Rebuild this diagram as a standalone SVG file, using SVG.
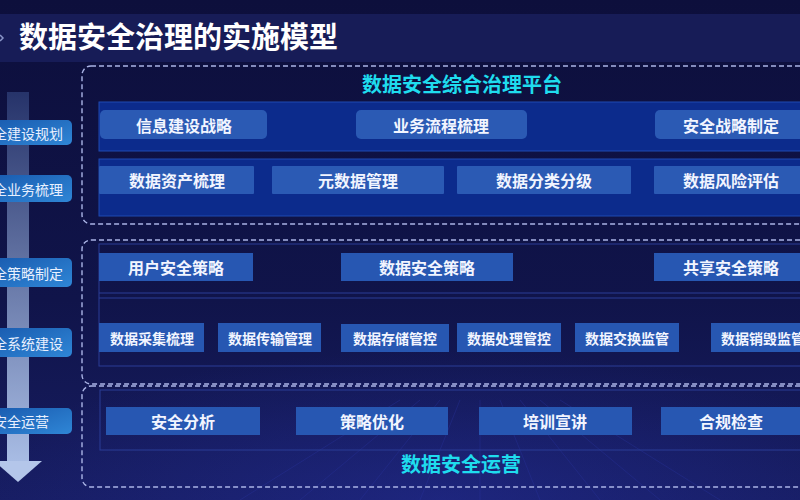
<svg xmlns="http://www.w3.org/2000/svg" width="800" height="500" viewBox="0 0 800 500">
<defs>
<linearGradient id="bgG" x1="0" y1="0" x2="0" y2="1">
<stop offset="0" stop-color="#0d0f3c"/>
<stop offset="0.6" stop-color="#10144a"/>
<stop offset="1" stop-color="#171d62"/>
</linearGradient>
<radialGradient id="glow" cx="0.55" cy="1" r="0.6">
<stop offset="0" stop-color="#2630a0" stop-opacity="0.45"/>
<stop offset="1" stop-color="#2630a0" stop-opacity="0"/>
</radialGradient>
<linearGradient id="shaftG" x1="0" y1="0" x2="0" y2="1">
<stop offset="0" stop-color="#26336a"/>
<stop offset="1" stop-color="#a8bce4"/>
</linearGradient>
<linearGradient id="leftBtn" x1="0" y1="0" x2="1" y2="1">
<stop offset="0" stop-color="#1a5cb0"/>
<stop offset="1" stop-color="#2f86d6"/>
</linearGradient>
<style>
.title{font-family:"Noto Sans CJK SC","Noto Sans",sans-serif;font-weight:bold;fill:#ffffff}
.cyan{font-family:"Noto Sans CJK SC","Noto Sans",sans-serif;font-weight:bold;fill:#1fdcee;font-size:20px}
.lbl{font-family:"Noto Sans CJK SC","Noto Sans",sans-serif;font-weight:bold;fill:#f2f5ff;font-size:16px;text-anchor:middle;dominant-baseline:central}
.lbl14{font-family:"Noto Sans CJK SC","Noto Sans",sans-serif;font-weight:bold;fill:#f2f5ff;font-size:14px;text-anchor:middle;dominant-baseline:central}
.side{font-family:"Noto Sans CJK SC","Noto Sans",sans-serif;fill:#e8f0ff;font-size:14px;text-anchor:end;dominant-baseline:central}
.dash{fill:none;stroke:#aab4e6;stroke-width:1.4;stroke-dasharray:5 3}
.panel{fill:#0c2b8c;stroke:#1f4ab2;stroke-width:1}
.btnR{fill:#2b5ab4}
.btnS{fill:#2757b2}
.sideBtn{fill:url(#leftBtn)}
.thin{fill:none;stroke:#2a3c96;stroke-width:1}
</style>
</defs>

<rect x="0" y="0" width="800" height="500" fill="url(#bgG)"/>
<rect x="0" y="250" width="800" height="250" fill="url(#glow)"/>
<g stroke="#2a35a0" stroke-width="1" opacity="0.35">
<line x1="300" y1="500" x2="420" y2="400"/>
<line x1="360" y1="500" x2="440" y2="400"/>
<line x1="420" y1="500" x2="460" y2="400"/>
<line x1="480" y1="500" x2="480" y2="400"/>
<line x1="540" y1="500" x2="500" y2="400"/>
<line x1="600" y1="500" x2="520" y2="400"/>
<line x1="660" y1="500" x2="540" y2="400"/>
<line x1="240" y1="500" x2="400" y2="400"/>
<line x1="720" y1="500" x2="560" y2="400"/>
</g>

<g id="title">
<rect x="0" y="14" width="800" height="48" fill="#171c57"/>
<path d="M0 35 L3 38 L0 41" fill="none" stroke="#8a95c8" stroke-width="1.5"/>
<text class="title" x="19" y="48" font-size="29">数据安全治理的实施模型</text>
</g>

<g id="connectors">
<rect x="7" y="92" width="22" height="370" fill="url(#shaftG)"/>
<polygon points="-6,461 42,461 18,482" fill="#b4c6ea"/>
</g>

<g id="step1"><rect class="sideBtn" x="-6" y="120" width="78" height="25" rx="5"/><text class="side" x="63" y="132.5">全建设规划</text></g>
<g id="step2"><rect class="sideBtn" x="-6" y="175" width="78" height="27" rx="5"/><text class="side" x="63" y="188.5">全业务梳理</text></g>
<g id="step3"><rect class="sideBtn" x="-6" y="258" width="78" height="29" rx="5"/><text class="side" x="63" y="272.5">全策略制定</text></g>
<g id="step4"><rect class="sideBtn" x="-6" y="328" width="78" height="29" rx="5"/><text class="side" x="63" y="342.5">全系统建设</text></g>
<g id="step5"><rect class="sideBtn" x="-6" y="408" width="78" height="26" rx="5"/><text class="side" x="49" y="421">安全运营</text></g>

<g id="platform">
<rect class="dash" x="82" y="66" width="740" height="158" rx="9"/>
<text class="cyan" x="462" y="92" text-anchor="middle">数据安全综合治理平台</text>
<rect class="panel" x="99" y="102" width="720" height="49"/>
<rect class="panel" x="99" y="159" width="720" height="57"/>
</g>
<g id="n-info"><rect class="btnR" x="100" y="110" width="167" height="29" rx="5"/><text class="lbl" x="184" y="124.5">信息建设战略</text></g>
<g id="n-biz"><rect class="btnR" x="356" y="110" width="171" height="29" rx="5"/><text class="lbl" x="441" y="124.5">业务流程梳理</text></g>
<g id="n-strat"><rect class="btnR" x="655" y="110" width="160" height="29" rx="5"/><text class="lbl" x="731" y="124.5">安全战略制定</text></g>
<g id="n-asset"><rect class="btnR" x="99" y="166" width="155" height="28" rx="1"/><text class="lbl" x="177" y="180">数据资产梳理</text></g>
<g id="n-meta"><rect class="btnR" x="272" y="166" width="172" height="28" rx="1"/><text class="lbl" x="358" y="180">元数据管理</text></g>
<g id="n-class"><rect class="btnR" x="457" y="166" width="174" height="28" rx="1"/><text class="lbl" x="544" y="180">数据分类分级</text></g>
<g id="n-risk"><rect class="btnR" x="654" y="166" width="160" height="28" rx="1"/><text class="lbl" x="731" y="180">数据风险评估</text></g>

<g id="policy">
<rect class="dash" x="82" y="240" width="740" height="144" rx="9"/>
<rect class="thin" x="99" y="244" width="720" height="122"/>
<line class="thin" x1="99" y1="293" x2="800" y2="293"/>
<line class="thin" x1="99" y1="298" x2="800" y2="298"/>
</g>
<g id="n-user"><rect class="btnS" x="99" y="253" width="154" height="28"/><text class="lbl" x="176" y="267">用户安全策略</text></g>
<g id="n-data"><rect class="btnS" x="341" y="253" width="172" height="28"/><text class="lbl" x="427" y="267">数据安全策略</text></g>
<g id="n-share"><rect class="btnS" x="654" y="253" width="160" height="28"/><text class="lbl" x="731" y="267">共享安全策略</text></g>
<g id="n-collect"><rect class="btnS" x="99" y="323" width="105" height="29"/><text class="lbl14" x="152" y="337.5">数据采集梳理</text></g>
<g id="n-trans"><rect class="btnS" x="218" y="323" width="103" height="29"/><text class="lbl14" x="270" y="337.5">数据传输管理</text></g>
<g id="n-store"><rect class="btnS" x="341" y="324" width="108" height="28"/><text class="lbl14" x="395" y="338">数据存储管控</text></g>
<g id="n-proc"><rect class="btnS" x="457" y="323" width="104" height="29"/><text class="lbl14" x="509" y="337.5">数据处理管控</text></g>
<g id="n-exch"><rect class="btnS" x="575" y="323" width="104" height="29"/><text class="lbl14" x="627" y="337.5">数据交换监管</text></g>
<g id="n-destroy"><rect class="btnS" x="711" y="323" width="104" height="29"/><text class="lbl14" x="763" y="337.5">数据销毁监管</text></g>

<g id="ops">
<rect class="dash" x="82" y="386" width="740" height="101" rx="9"/>
<rect class="thin" x="100" y="390" width="720" height="60"/>
<text class="cyan" x="461" y="472" text-anchor="middle">数据安全运营</text>
</g>
<g id="n-analysis"><rect class="btnS" x="106" y="407" width="154" height="28"/><text class="lbl" x="183" y="421">安全分析</text></g>
<g id="n-opt"><rect class="btnS" x="296" y="407" width="152" height="28"/><text class="lbl" x="372" y="421">策略优化</text></g>
<g id="n-train"><rect class="btnS" x="479" y="407" width="153" height="28"/><text class="lbl" x="555" y="421">培训宣讲</text></g>
<g id="n-comp"><rect class="btnS" x="661" y="407" width="154" height="28"/><text class="lbl" x="731" y="421">合规检查</text></g>
</svg>
